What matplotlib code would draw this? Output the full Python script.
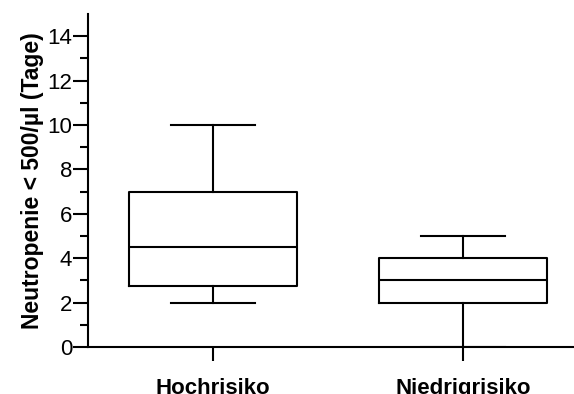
import matplotlib.pyplot as plt

plt.rcParams['font.family'] = ['Liberation Sans', 'DejaVu Sans']

# group names and five-number summaries
groups = ['Hochrisiko', 'Niedrigrisiko']
whislo = [2.0, 0.0]
q1 = [2.75, 2.0]
med = [4.5, 3.0]
q3 = [7.0, 4.0]
whishi = [10.0, 5.0]

stats = []
for i, g in enumerate(groups):
    stats.append({'label': g, 'whislo': whislo[i], 'q1': q1[i], 'med': med[i],
                  'q3': q3[i], 'whishi': whishi[i], 'fliers': []})

fig = plt.figure(figsize=(5.74, 3.94), dpi=100)
ax = fig.add_axes([0.1533, 0.1193, 0.8467, 0.8452])

lw = 1.5
ax.bxp(stats, positions=[1, 2], widths=0.67, showfliers=False,
       boxprops=dict(color='black', linewidth=lw),
       medianprops=dict(color='black', linewidth=lw),
       whiskerprops=dict(color='black', linewidth=lw),
       capprops=dict(color='black', linewidth=lw),
       capwidths=0.335)

ax.set_xlim(0.5, 2.444)
ax.set_ylim(0, 15)
ax.set_yticks(range(0, 15, 2))
ax.set_yticks(range(1, 15, 2), minor=True)
ax.spines['top'].set_visible(False)
ax.spines['right'].set_visible(False)
ax.spines['left'].set_linewidth(lw)
ax.spines['bottom'].set_linewidth(lw)
ax.tick_params(axis='y', which='major', length=11, width=lw, labelsize=16, pad=0.5)
ax.tick_params(axis='y', which='minor', length=6, width=lw)
ax.tick_params(axis='x', length=10, width=lw, labelsize=16, pad=12)
for lbl in ax.get_xticklabels():
    lbl.set_fontweight('bold')

ax.set_ylabel('Neutropenie < 500/µl (Tage)', fontsize=16.5, fontweight='bold', labelpad=2)

fig.savefig('out.png', dpi=100)
